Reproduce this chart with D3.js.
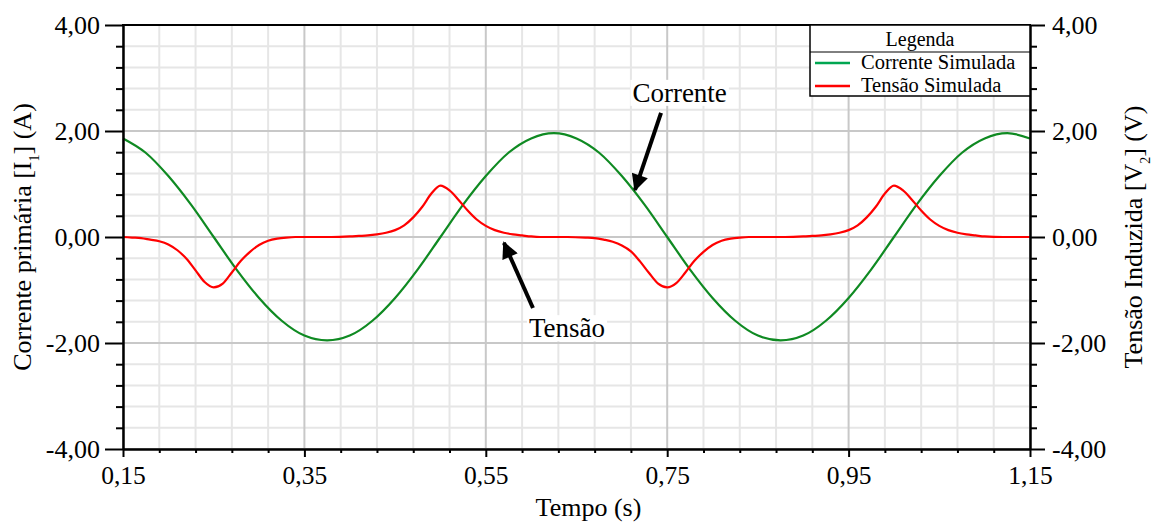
<!DOCTYPE html>
<html>
<head>
<meta charset="utf-8">
<script src="https://cdn.jsdelivr.net/npm/d3@7"></script>
<style>
  html, body { margin: 0; padding: 0; background: #fff; }
  svg { display: block; font-family: "Liberation Serif", "Times New Roman", serif; }
  svg text { font-family: "Liberation Serif", "Times New Roman", serif; }
</style>
</head>
<body>
<svg id="chart" width="1154" height="523"></svg>
<script>
// ---------------- DATA ----------------
const currentTimes = [0.150,0.175,0.200,0.225,0.250,0.275,0.300,0.325,0.350,0.375,0.400,0.425,0.450,0.475,0.500,0.525,0.550,0.575,0.600,0.625,0.650,0.675,0.700,0.725,0.750,0.775,0.800,0.825,0.850,0.875,0.900,0.925,0.950,0.975,1.000,1.025,1.050,1.075,1.100,1.125,1.150];
const currentValues = [1.86,1.59,1.15,0.61,0.00,-0.61,-1.15,-1.58,-1.86,-1.95,-1.86,-1.58,-1.15,-0.61,0.00,0.61,1.15,1.59,1.86,1.96,1.86,1.59,1.15,0.61,0.00,-0.61,-1.15,-1.58,-1.86,-1.95,-1.86,-1.58,-1.15,-0.61,0.00,0.61,1.15,1.59,1.86,1.96,1.86];

const voltageTimes = [0.15,0.16,0.17,0.18,0.19,0.20,0.21,0.22,0.23,0.24,0.25,0.26,0.27,0.28,0.29,0.30,0.31,0.32,0.33,0.34,0.36,0.38,0.40,0.41,0.42,0.43,0.44,0.45,0.46,0.47,0.48,0.49,0.50,0.51,0.52,0.53,0.54,0.55,0.56,0.57,0.58,0.59,0.60,0.61,0.62,0.64,0.66,0.67,0.68,0.69,0.70,0.71,0.72,0.73,0.74,0.75,0.76,0.77,0.78,0.79,0.80,0.81,0.82,0.83,0.84,0.86,0.88,0.90,0.91,0.92,0.93,0.94,0.95,0.96,0.97,0.98,0.99,1.00,1.01,1.02,1.03,1.04,1.05,1.06,1.07,1.08,1.09,1.10,1.12,1.15];
const voltageValues = [0,-0.01,-0.02,-0.05,-0.08,-0.14,-0.25,-0.41,-0.63,-0.85,-0.95,-0.88,-0.67,-0.45,-0.28,-0.15,-0.07,-0.03,-0.01,0,0,0,0.01,0.02,0.03,0.05,0.08,0.13,0.22,0.37,0.57,0.82,0.97,0.88,0.70,0.50,0.33,0.21,0.13,0.08,0.05,0.03,0.01,0,0,0,-0.01,-0.02,-0.05,-0.09,-0.16,-0.27,-0.46,-0.68,-0.88,-0.95,-0.87,-0.67,-0.45,-0.28,-0.15,-0.07,-0.03,-0.01,0,0,0,0.01,0.02,0.03,0.05,0.08,0.13,0.22,0.37,0.57,0.82,0.97,0.88,0.70,0.50,0.33,0.21,0.13,0.08,0.05,0.03,0.01,0,0];

const xMajorTicks = [0.15,0.35,0.55,0.75,0.95,1.15];
const xMinorTicks = [0.19,0.23,0.27,0.31,0.39,0.43,0.47,0.51,0.59,0.63,0.67,0.71,0.79,0.83,0.87,0.91,0.99,1.03,1.07,1.11];
const yMajorTicks = [-4,-2,0,2,4];
const yMinorTicks = [-3.6,-3.2,-2.8,-2.4,-1.6,-1.2,-0.8,-0.4,0.4,0.8,1.2,1.6,2.4,2.8,3.2,3.6];

const seriesNames = ["Corrente Simulada","Tensão Simulada"];
const legendTitle = "Legenda";
const xTitle = "Tempo (s)";

// annotations in data units: text position, arrow tail, arrow tip
const annotations = [
  {label:"Corrente", tx:0.7637, ty:2.55, x1:0.7432, y1:2.34, x2:0.7145, y2:0.89},
  {label:"Tensão",  tx:0.6395, ty:-1.89, x1:0.602, y1:-1.34, x2:0.570, y2:-0.11}
];

// ---------------- LAYOUT ----------------
const SERIF = "'Liberation Serif','Times New Roman',serif";
const svg = d3.select("#chart");
const L = 123, R = 1030, T = 25, B = 449;
const x = d3.scaleLinear().domain([0.15,1.15]).range([L,R]);
const y = d3.scaleLinear().domain([-4,4]).range([B,T]);
const fmt = v => d3.format(".2f")(v).replace(".", ",").replace("\u2212","-");

// grid
const grid = svg.append("g");
grid.selectAll(".vmin").data(xMinorTicks).join("line")
  .attr("x1", d=>x(d)).attr("x2", d=>x(d)).attr("y1", T).attr("y2", B)
  .attr("stroke", "#e6e6e6").attr("stroke-width", 2);
grid.selectAll(".hmin").data(yMinorTicks).join("line")
  .attr("y1", d=>y(d)).attr("y2", d=>y(d)).attr("x1", L).attr("x2", R)
  .attr("stroke", "#e6e6e6").attr("stroke-width", 2);
grid.selectAll(".vmaj").data(xMajorTicks).join("line")
  .attr("x1", d=>x(d)).attr("x2", d=>x(d)).attr("y1", T).attr("y2", B)
  .attr("stroke", "#c8c8c8").attr("stroke-width", 2);
grid.selectAll(".hmaj").data(yMajorTicks).join("line")
  .attr("y1", d=>y(d)).attr("y2", d=>y(d)).attr("x1", L).attr("x2", R)
  .attr("stroke", "#c8c8c8").attr("stroke-width", 2);

// series
const cur = currentTimes.map((t,i)=>[t,currentValues[i]]);
const vol = voltageTimes.map((t,i)=>[t,voltageValues[i]]);
const line = d3.line().x(d=>x(d[0])).y(d=>y(d[1])).curve(d3.curveMonotoneX);
svg.append("path").attr("d", line(cur)).attr("fill","none").attr("stroke","#0f8a22").attr("stroke-width",2.2);
svg.append("path").attr("d", line(vol)).attr("fill","none").attr("stroke","#ff0000").attr("stroke-width",2.2);

// axes
function styleAxis(g, fs) {
  g.attr("font-family", SERIF).attr("font-size", fs);
  g.select(".domain").attr("stroke","#000").attr("stroke-width",2);
  g.selectAll(".tick line").attr("stroke","#000").attr("stroke-width",2);
  g.selectAll(".tick text").attr("fill","#000").attr("font-family", SERIF)
    .style("font-size", fs+"px").style("font-family", SERIF);
}
const gL = svg.append("g").attr("transform",`translate(${L},0)`)
  .call(d3.axisLeft(y).tickValues(yMajorTicks).tickSize(18).tickSizeOuter(0).tickPadding(5).tickFormat(fmt));
styleAxis(gL, 26);
const gLm = svg.append("g").attr("transform",`translate(${L},0)`)
  .call(d3.axisLeft(y).tickValues(yMinorTicks).tickSize(7).tickSizeOuter(0).tickFormat(""));
styleAxis(gLm, 26);
const gR = svg.append("g").attr("transform",`translate(${R},0)`)
  .call(d3.axisRight(y).tickValues(yMajorTicks).tickSize(15).tickSizeOuter(0).tickPadding(7).tickFormat(fmt));
styleAxis(gR, 26);
const gRm = svg.append("g").attr("transform",`translate(${R},0)`)
  .call(d3.axisRight(y).tickValues(yMinorTicks).tickSize(7).tickSizeOuter(0).tickFormat(""));
styleAxis(gRm, 26);
const gB = svg.append("g").attr("transform",`translate(0,${B})`)
  .call(d3.axisBottom(x).tickValues(xMajorTicks).tickSize(8).tickSizeOuter(0).tickPadding(9).tickFormat(fmt));
styleAxis(gB, 25.5);
const gBm = svg.append("g").attr("transform",`translate(0,${B})`)
  .call(d3.axisBottom(x).tickValues(xMinorTicks).tickSize(4).tickSizeOuter(0).tickFormat(""));
styleAxis(gBm, 25.5);
// top frame
svg.append("line").attr("x1",L-1).attr("x2",R+1).attr("y1",T).attr("y2",T).attr("stroke","#000").attr("stroke-width",2);

// axis titles
svg.append("text").attr("x",(L+R)/2+12).attr("y",516).attr("text-anchor","middle")
  .style("font-size","26px").text(xTitle);
const yl = svg.append("text").attr("transform",`translate(31,${(T+B)/2}) rotate(-90)`)
  .attr("text-anchor","middle").style("font-size","26px");
yl.append("tspan").text("Corrente primária [I");
yl.append("tspan").attr("baseline-shift","sub").style("font-size","14px").text("1");
yl.append("tspan").text("] (A)");
const yr = svg.append("text").attr("transform",`translate(1142,${(T+B)/2}) rotate(-90)`)
  .attr("text-anchor","middle").style("font-size","26px");
yr.append("tspan").text("Tensão Induzida [V");
yr.append("tspan").attr("baseline-shift","sub").style("font-size","14px").text("2");
yr.append("tspan").text("] (V)");

// annotations
svg.append("defs").append("marker").attr("id","arr").attr("viewBox","0 0 10 10")
  .attr("refX",9).attr("refY",5).attr("markerWidth",5).attr("markerHeight",4.2)
  .attr("markerUnits","strokeWidth").attr("orient","auto")
  .append("path").attr("d","M0,0 L10,5 L0,10 z").attr("fill","#000");
annotations.forEach(a=>{
  const t = svg.append("text").attr("x",x(a.tx)).attr("y",y(a.ty)).attr("text-anchor","middle")
    .style("font-size","27px").text(a.label);
  const bb = t.node().getBBox();
  svg.insert("rect", () => t.node()).attr("x",bb.x-2).attr("y",bb.y+2).attr("width",bb.width+4).attr("height",bb.height-4).attr("fill","#fff");
  svg.append("line").attr("x1",x(a.x1)).attr("y1",y(a.y1)).attr("x2",x(a.x2)).attr("y2",y(a.y2))
    .attr("stroke","#000").attr("stroke-width",4).attr("marker-end","url(#arr)");
});

// legend
const lg = svg.append("g");
const lx = 810, ly = T, lw = R - 810, lh = 71;
lg.append("rect").attr("x",lx).attr("y",ly).attr("width",lw).attr("height",lh)
  .attr("fill","#fff").attr("stroke","#000").attr("stroke-width",1.5);
lg.append("line").attr("x1",lx).attr("x2",lx+lw).attr("y1",ly+27).attr("y2",ly+27).attr("stroke","#000").attr("stroke-width",1);
lg.append("text").attr("x",lx+lw/2).attr("y",ly+21).attr("text-anchor","middle").style("font-size","20px").text(legendTitle);
const legColors = ["#00a651","#ff0000"];
seriesNames.forEach((n,i)=>{
  const yy = ly + 38 + i*23;
  lg.append("line").attr("x1",lx+5).attr("x2",lx+40).attr("y1",yy).attr("y2",yy).attr("stroke",legColors[i]).attr("stroke-width",2.5);
  lg.append("text").attr("x",lx+51).attr("y",yy+6).style("font-size","20.5px").text(n);
});
</script>
</body>
</html>
